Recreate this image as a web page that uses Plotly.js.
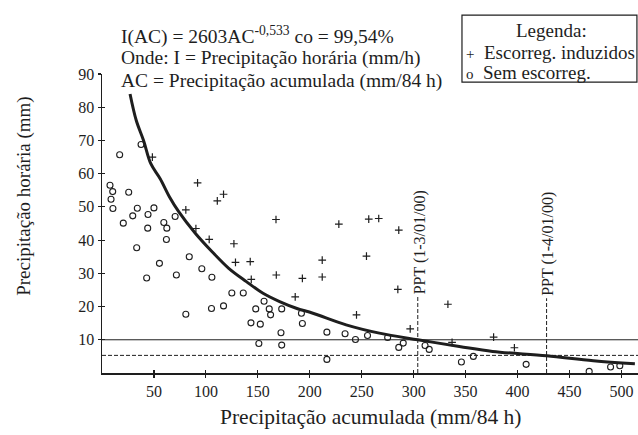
<!DOCTYPE html>
<html>
<head>
<meta charset="utf-8">
<script src="https://cdn.plot.ly/plotly-3.0.1.min.js"></script>
<style>html,body{margin:0;padding:0;background:#fff;}#chart{width:638px;height:435px;}</style>
</head>
<body>
<div id="chart"></div>
<script>
// Escorreg. induzidos (+)
const acInduzidos = [48.5, 92, 111, 117, 80.7, 90.4, 103.2, 127, 128.5, 142.7, 143.7, 167.5, 167.8, 192.9, 186, 212, 212, 228, 256.8, 266.4, 285.7, 254.6, 284.8, 333, 245, 296.7, 337, 377, 397];
const iInduzidos  = [65, 57.2, 51.8, 53.8, 49.1, 43.5, 40.2, 38.9, 33.3, 33.5, 28.2, 46.2, 29.5, 28.5, 22.9, 34, 28.9, 44.8, 46.3, 46.5, 43, 35.2, 25.2, 20.7, 17.5, 13.3, 9.2, 10.8, 7.6];
// Sem escorreg. (o)
const acSem = [7.7, 10.3, 8.7, 10.5, 17, 37.6, 25.7, 34, 50, 29.6, 44.3, 70.4, 20.5, 59.5, 44, 62.4, 62, 33.4, 43, 55.3, 71.6, 84, 80.7, 96.1, 105.8, 105.4, 117, 125, 136, 148, 143.4, 152.4, 156, 161, 162.3, 173, 172.3, 151, 173, 192, 192.9, 216.5, 216.5, 234, 244, 255.6, 275, 285.7, 290, 311, 315, 346, 357.5, 408.3, 469, 489.6, 498.5];
const iSem  = [56.5, 54.6, 52.3, 49.5, 65.7, 68.8, 54.4, 49.6, 49.7, 47.3, 47.7, 47.1, 45.1, 45.3, 43.6, 43.6, 40.2, 37.7, 28.6, 33, 29.5, 35, 17.7, 31.4, 28.8, 19.4, 20.2, 24.1, 24.1, 19.3, 15.1, 14.7, 21.6, 19.3, 17.5, 19.3, 12.1, 8.9, 8.4, 18, 14.9, 12.3, 4.1, 11.8, 10.1, 11.3, 10.7, 7.7, 9, 8.3, 7.1, 3.3, 5, 2.6, 0.5, 1.8, 2.2];
// Curva limiar
const acCurva = [27, 33, 40, 47, 56, 65, 74, 90, 106, 122, 139, 155, 171, 187, 203, 235, 267, 304, 344, 376, 428, 473, 513];
const iCurva  = [84, 76, 70, 63, 58.5, 53, 48.5, 42, 36.5, 31.5, 27.5, 24, 21.5, 19.5, 18, 14.5, 12, 10, 8, 6.5, 5.2, 3.7, 2.8];
// Linhas de referência
const limiaresI = [10, 5.3];
const pptAC = [304, 428];
const pptTopo = [23, 22.5];
const pptLabels = ['PPT (1-3/01/00)', 'PPT (1-4/01/00)'];
const xTicks = [50, 100, 150, 200, 250, 300, 350, 400, 450, 500];
const yTicks = [10, 20, 30, 40, 50, 60, 70, 80, 90];
// Textos
const equacao = ['I(AC) = 2603AC<sup>-0,533</sup> co = 99,54%', 'Onde: I = Precipitação horária (mm/h)', 'AC = Precipitação acumulada (mm/84 h)'];
const legendaTitulo = 'Legenda:';
const legendaItens = ['<span style="font-size:15px">+</span>&nbsp; Escorreg. induzidos', '<span style="font-size:15px">o</span>&nbsp; Sem escorreg.'];

const ink = '#1e1e1e';
const serif = "'Liberation Serif', serif";

const traces = [
  {x: acCurva, y: iCurva, mode: 'lines', line: {color: ink, width: 3, shape: 'spline', smoothing: 1}, showlegend: false, hoverinfo: 'skip'},
  {x: acInduzidos, y: iInduzidos, mode: 'markers', name: 'Escorreg. induzidos', showlegend: false,
   marker: {symbol: 'cross-thin', size: 5.5, line: {color: ink, width: 1.2}, color: ink}},
  {x: acSem, y: iSem, mode: 'markers', name: 'Sem escorreg.', showlegend: false,
   marker: {symbol: 'circle-open', size: 6, line: {color: ink, width: 1.1}, color: ink}},
  {x: [], y: [], xaxis: 'x2', yaxis: 'y2', showlegend: false, hoverinfo: 'skip'}
];

const shapes = [];
limiaresI.forEach((v, k) => {
  shapes.push({type: 'line', xref: 'paper', x0: 0, x1: 1, yref: 'y', y0: v, y1: v,
    line: {color: ink, width: 1, dash: k === 0 ? 'solid' : '4px,2px'}});
});
pptAC.forEach((v, k) => {
  shapes.push({type: 'line', xref: 'x', x0: v, x1: v, yref: 'y', y0: 0, y1: pptTopo[k],
    line: {color: ink, width: 1, dash: '4px,2px'}});
});
// caixa da legenda
shapes.push({type: 'rect', xref: 'paper', yref: 'paper', x0: 0.6716, x1: 0.998, y0: 0.973, y1: 1.197,
  line: {color: ink, width: 1.2}, fillcolor: '#fff', layer: 'above'});

const annotations = [];
const eqBottoms = [1.080, 1.010, 0.933];
equacao.forEach((t, k) => {
  annotations.push({xref: 'paper', yref: 'paper', x: 0.032, y: eqBottoms[k], xanchor: 'left', yanchor: 'bottom',
    showarrow: false, text: t, font: {family: serif, size: 19.5, color: ink}});
});
annotations.push(
  {xref: 'paper', yref: 'paper', x: -0.147, y: 0.590, xanchor: 'center', yanchor: 'middle', showarrow: false,
   textangle: -90, text: 'Precipitação horária (mm)', font: {family: serif, size: 19, color: ink}},
  {xref: 'paper', yref: 'paper', x: 0.5, y: -0.148, xanchor: 'center', yanchor: 'middle', showarrow: false,
   text: 'Precipitação acumulada (mm/84 h)', font: {family: serif, size: 21.5, color: ink}},
  {xref: 'paper', yref: 'paper', x: 0.8395, y: 1.145, xanchor: 'center', yanchor: 'middle', showarrow: false,
   text: legendaTitulo, font: {family: serif, size: 19, color: ink}},
  {xref: 'paper', yref: 'paper', x: 0.676, y: 1.073, xanchor: 'left', yanchor: 'middle', showarrow: false,
   text: legendaItens[0], font: {family: serif, size: 19, color: ink}},
  {xref: 'paper', yref: 'paper', x: 0.676, y: 1.006, xanchor: 'left', yanchor: 'middle', showarrow: false,
   text: legendaItens[1], font: {family: serif, size: 19, color: ink}}
);
pptAC.forEach((v, k) => {
  annotations.push({xref: 'x', yref: 'y', x: v, y: pptTopo[k], xanchor: 'center', yanchor: 'bottom',
    xshift: 2, showarrow: false, textangle: -90, text: pptLabels[k], font: {family: serif, size: 16, color: ink}});
});

const axBase = {range: [0, 516], tickvals: xTicks, showgrid: false, zeroline: false};
const layout = {
  width: 638, height: 435,
  margin: {l: 102, r: 0, t: 74, b: 62},
  paper_bgcolor: '#fff', plot_bgcolor: 'rgba(0,0,0,0)',
  font: {family: serif, color: ink, size: 16},
  xaxis: Object.assign({}, axBase, {showline: true, linecolor: ink, linewidth: 1.5, ticks: 'outside', ticklen: 3, tickwidth: 1.2, tickcolor: ink,
    tickfont: {family: serif, size: 16, color: ink}}),
  yaxis: {range: [0, 90], tickvals: yTicks, showgrid: false, zeroline: false, showline: true, linecolor: ink, linewidth: 1.5,
    ticks: 'outside', ticklen: 3, tickwidth: 1.2, tickcolor: ink, tickfont: {family: serif, size: 16, color: ink}},
  xaxis2: Object.assign({}, axBase, {overlaying: 'x', matches: 'x', anchor: 'y2', showline: false, ticks: 'inside', ticklen: 3, tickwidth: 1.2, tickcolor: ink, showticklabels: false}),
  yaxis2: {range: [0, 90], tickvals: yTicks, overlaying: 'y', anchor: 'x2', showgrid: false, zeroline: false, showline: false, ticks: 'inside', ticklen: 3, tickwidth: 1.2, tickcolor: ink, showticklabels: false},
  showlegend: false,
  shapes: shapes,
  annotations: annotations
};

Plotly.newPlot('chart', traces, layout, {displayModeBar: false, staticPlot: true});
</script>
</body>
</html>
